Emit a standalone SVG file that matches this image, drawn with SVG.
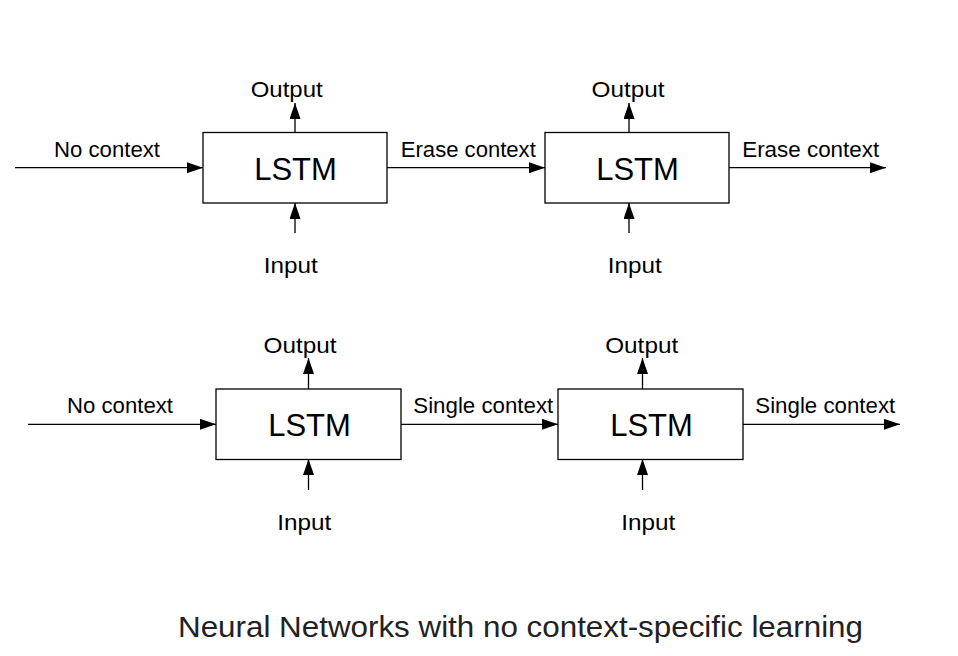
<svg xmlns="http://www.w3.org/2000/svg" width="958" height="656" viewBox="0 0 958 656">
<defs>
<marker id="ah" viewBox="0 0 16 11" refX="16" refY="5.5" markerWidth="16" markerHeight="11" markerUnits="userSpaceOnUse" orient="auto">
<path d="M0,0 L16,5.5 L0,11 Z" fill="#000"/>
</marker>
<style>
.box{fill:#fff;stroke:#000;stroke-width:1.3}
.ln{stroke:#000;stroke-width:1.3;fill:none;marker-end:url(#ah)}
text{font-family:"Liberation Sans",Arial,sans-serif;fill:#000;text-anchor:middle}
.lb{font-size:21.5px}
.big{font-size:31px}
.title{font-size:29.5px;fill:#222}
</style>
</defs>
<rect width="958" height="656" fill="#fff"/>
<g id="connectors">
<line class="ln" x1="15" y1="167.7" x2="203" y2="167.7"/>
<line class="ln" x1="387" y1="167.7" x2="545" y2="167.7"/>
<line class="ln" x1="729" y1="167.7" x2="886" y2="167.7"/>
<line class="ln" x1="295" y1="132" x2="295" y2="103"/>
<line class="ln" x1="295" y1="233" x2="295" y2="203"/>
<line class="ln" x1="629" y1="132" x2="629" y2="103"/>
<line class="ln" x1="629" y1="233" x2="629" y2="203"/>
<line class="ln" x1="28" y1="424.3" x2="216" y2="424.3"/>
<line class="ln" x1="401" y1="424.3" x2="558" y2="424.3"/>
<line class="ln" x1="743" y1="424.3" x2="900" y2="424.3"/>
<line class="ln" x1="308.5" y1="389" x2="308.5" y2="358"/>
<line class="ln" x1="308.5" y1="490" x2="308.5" y2="459"/>
<line class="ln" x1="642.5" y1="389" x2="642.5" y2="358"/>
<line class="ln" x1="642.5" y1="490" x2="642.5" y2="459"/>
</g>
<g id="lstm1"><rect class="box" x="203" y="132.5" width="184" height="70.5"/><text class="big" x="295.5" y="179.5">LSTM</text></g>
<g id="lstm2"><rect class="box" x="545" y="132.5" width="184" height="70.5"/><text class="big" x="637.5" y="179.5">LSTM</text></g>
<g id="lstm3"><rect class="box" x="216" y="389" width="185" height="70.5"/><text class="big" x="309.5" y="436">LSTM</text></g>
<g id="lstm4"><rect class="box" x="558" y="389" width="185" height="70.5"/><text class="big" x="651.5" y="436">LSTM</text></g>
<g id="labels">
<text class="lb" x="107" y="157.3" textLength="106" lengthAdjust="spacingAndGlyphs">No context</text>
<text class="lb" x="468.3" y="157.3" textLength="135" lengthAdjust="spacingAndGlyphs">Erase context</text>
<text class="lb" x="810.7" y="157.3" textLength="137" lengthAdjust="spacingAndGlyphs">Erase context</text>
<text class="lb" x="286.7" y="96.5" textLength="72" lengthAdjust="spacingAndGlyphs">Output</text>
<text class="lb" x="628" y="96.5" textLength="73" lengthAdjust="spacingAndGlyphs">Output</text>
<text class="lb" x="290.8" y="273.3" textLength="54" lengthAdjust="spacingAndGlyphs">Input</text>
<text class="lb" x="634.7" y="273.3" textLength="54" lengthAdjust="spacingAndGlyphs">Input</text>
<text class="lb" x="120" y="413.3" textLength="106" lengthAdjust="spacingAndGlyphs">No context</text>
<text class="lb" x="483.3" y="413.3" textLength="140" lengthAdjust="spacingAndGlyphs">Single context</text>
<text class="lb" x="825.3" y="413.3" textLength="140" lengthAdjust="spacingAndGlyphs">Single context</text>
<text class="lb" x="300" y="352.7" textLength="73" lengthAdjust="spacingAndGlyphs">Output</text>
<text class="lb" x="641.7" y="352.7" textLength="73" lengthAdjust="spacingAndGlyphs">Output</text>
<text class="lb" x="304.2" y="530" textLength="54" lengthAdjust="spacingAndGlyphs">Input</text>
<text class="lb" x="648.3" y="530" textLength="54" lengthAdjust="spacingAndGlyphs">Input</text>
</g>
<text class="title" x="520.5" y="637" textLength="685" lengthAdjust="spacingAndGlyphs">Neural Networks with no context-specific learning</text>
</svg>
